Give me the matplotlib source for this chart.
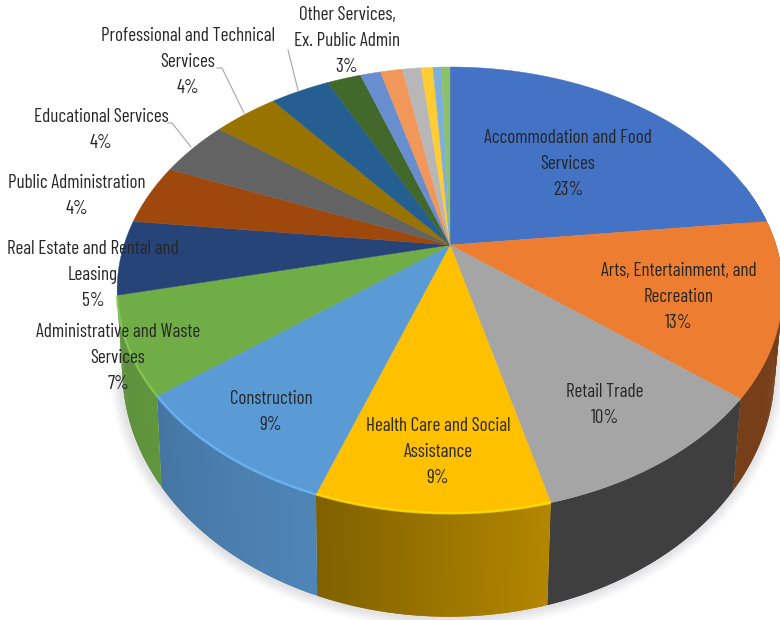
import numpy as np
import matplotlib
matplotlib.use('Agg')
import matplotlib.pyplot as plt
from matplotlib.colors import to_rgb

plt.rcParams['font.family'] = ['Barlow Condensed', 'Abel', 'Liberation Sans', 'DejaVu Sans']

# slice shares (rounded labels are below)
values = [23.2, 12.6, 10.2, 9.4, 9.0, 7.0, 5.4, 4.4, 4.2, 3.8, 3.5, 2.0, 1.2, 1.3, 1.1, 0.7, 0.5, 0.5]
colors = ['#4472C4', '#ED7D31', '#A5A5A5', '#FFC000', '#5B9BD5', '#70AD47', '#264478', '#9E480E', '#636363',
          '#997300', '#255E91', '#43682B', '#698ED0', '#F1975A', '#B7B7B7', '#FFCD33', '#7CAFDD', '#8CC168']
# how dark each front slice's side wall gets, at its start and end
side_start = [0.5, 0.5, 0.38, 0.70, 0.86, 0.86]
side_end = [0.5, 0.5, 0.38, 0.50, 0.76, 0.82]

labels = ['Accommodation and Food\nServices\n23%', 'Arts, Entertainment, and\nRecreation\n13%',
          'Retail Trade\n10%', 'Health Care and Social\nAssistance\n9%', 'Construction\n9%',
          'Administrative and Waste\nServices\n7%', 'Real Estate and Rental and\nLeasing\n5%',
          'Public Administration\n4%', 'Educational Services\n4%', 'Professional and Technical\nServices\n4%',
          'Other Services,\nEx. Public Admin\n3%']
label_x = [568, 679, 605, 438, 271, 118, 93, 77, 101, 188, 347]
label_y = [164, 297, 405, 452, 412, 358, 275, 196, 130, 62, 41]

# pie geometry in pixels, with a perspective term
CX, CY = 450, 245
A, B, K = 326, 214, 0.202
DEPTH, K_SIDE = 76, 0.266


def rim(theta):
    s, c = np.sin(theta), np.cos(theta)
    w = 1 + K * c
    return CX + A * s / w, CY - B * c / w


def lower_rim(theta):
    x, y = rim(theta)
    return 380 + (x - 380) * 0.98, y + DEPTH / (1 + K_SIDE * np.cos(theta))


fig = plt.figure(figsize=(7.8, 6.2), dpi=100)
ax = fig.add_axes([0, 0, 1, 1])
ax.set_xlim(0, 780)
ax.set_ylim(620, 0)
ax.axis('off')

edges = np.cumsum([0] + values) / sum(values) * 2 * np.pi

# soft shadow under the front wall
front = np.linspace(np.pi * 0.45, edges[6], 200)
sx, sy = lower_rim(front)
for lw in [16, 12, 9, 6, 3]:
    ax.plot(sx - 1, sy + 1, color='#8a8a98', alpha=0.05, lw=lw, solid_capstyle='round', zorder=1)

# side wall, overlapping strips so the shade can change along the slice
for i in range(len(side_start)):
    t0, t1 = edges[i], edges[i + 1]
    n = max(int((t1 - t0) * 120), 2)
    ts = np.linspace(t0, t1, n + 1)
    for j in range(n):
        if np.cos(ts[j]) > 0.3:
            continue
        shade = side_start[i] + (side_end[i] - side_start[i]) * j / n
        seg = np.linspace(ts[j], ts[min(j + 2, n)], 5)
        x1, y1 = rim(seg)
        x2, y2 = lower_rim(seg)
        c = np.array(to_rgb(colors[i])) * shade
        ax.fill(np.r_[x1, x2[::-1]], np.r_[y1, y2[::-1]], color=c, lw=0, zorder=2)

# top face
for i, col in enumerate(colors):
    ts = np.linspace(edges[i], edges[i + 1], 80)
    x, y = rim(ts)
    ax.fill(np.r_[CX, x], np.r_[CY, y], color=col, lw=0.3, zorder=3)

# lighter lip on the front edge of the cool and yellow slices
for i in [3, 4, 5]:
    ts = np.linspace(edges[i], edges[i + 1], 60)
    x, y = rim(ts)
    lip = np.minimum(np.array(to_rgb(colors[i])) * 1.18, 1)
    ax.plot(x, y, color=lip, lw=1.8, alpha=0.8, zorder=4, solid_capstyle='butt')

# leader lines
ax.plot([217, 222, 244], [68, 68, 113], color='#a6a6a6', lw=0.8, zorder=5)
ax.plot([168, 172, 191], [123, 123, 147], color='#a6a6a6', lw=0.8, zorder=5)
ax.plot([288, 298], [50, 90], color='#a6a6a6', lw=0.8, zorder=5)

for name, x, y in zip(labels, label_x, label_y):
    ax.text(x, y, name, ha='center', va='center', fontsize=13.7, color='#262626', linespacing=1.58, zorder=6)

fig.savefig('out.png', dpi=100)
